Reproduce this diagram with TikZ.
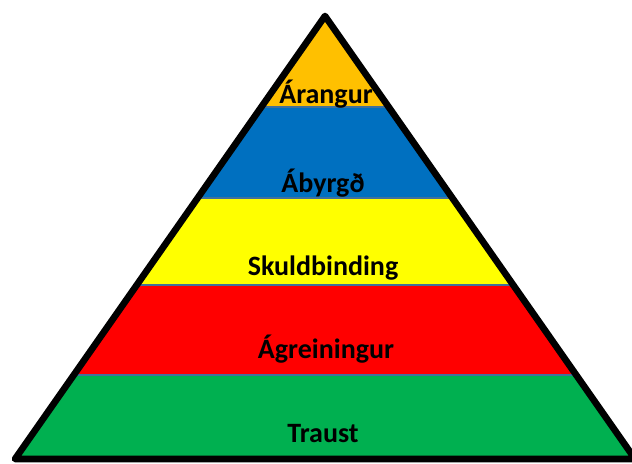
\documentclass[tikz,border=0pt]{standalone}
\usepackage{fontspec}
\setmainfont{Carlito}
\definecolor{cOrange}{HTML}{FFC000}
\definecolor{cBlue}{HTML}{0070C0}
\definecolor{cYellow}{HTML}{FFFF00}
\definecolor{cRed}{HTML}{FF0000}
\definecolor{cGreen}{HTML}{00B050}
\definecolor{cDiv}{HTML}{41719C}
\begin{document}
\begin{tikzpicture}[x=0.75pt,y=-0.75pt,
  lbl/.style={anchor=base,font=\fontsize{21}{24}\selectfont\bfseries,text=black,inner sep=0pt},
  divider/.style={draw=cDiv,line width=1.5pt}]
\useasboundingbox (0,0) rectangle (632,464);
\coordinate (A) at (325,16);
\coordinate (L) at (15,459);
\coordinate (R) at (635,459);
\begin{scope}
  \clip (A) -- (L) -- (R) -- cycle;
  \fill[cOrange] (0,0) rectangle (640,107);
  \fill[cBlue] (0,107) rectangle (640,198);
  \fill[cYellow] (0,198) rectangle (640,285);
  \fill[cRed] (0,285) rectangle (640,375);
  \fill[cGreen] (0,375) rectangle (640,470);
  \draw[divider] (0,107) -- (640,107);
  \draw[divider] (0,198) -- (640,198);
  \draw[divider] (0,285) -- (640,285);
  \draw[divider] (0,375) -- (640,375);
\end{scope}
\draw[line width=5pt,line join=round] (A) -- (L) -- (R) -- cycle;
\node[lbl] (t1) at (326,103) {Árangur};
\node[lbl] (t2) at (323,192) {Ábyrgð};
\node[lbl] (t3) at (323,275) {Skuldbinding};
\node[lbl] (t4) at (326,358) {Ágreiningur};
\node[lbl] (t5) at (323,442) {Traust};
\end{tikzpicture}
\end{document}
